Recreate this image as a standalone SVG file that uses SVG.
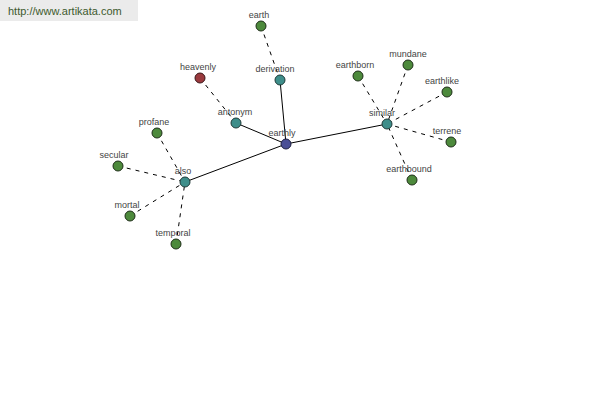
<svg xmlns="http://www.w3.org/2000/svg" width="600" height="400" viewBox="0 0 600 400">
<style>
.bg{fill:#ffffff}
.hdr{fill:#ebebeb}
.hdrt{font-family:"Liberation Sans",Arial,sans-serif;font-size:11px;fill:#3d5a2e}
.lbl{font-family:"Liberation Sans",Arial,sans-serif;font-size:9px;fill:#444444;text-anchor:middle}
.solid{stroke:#000000;stroke-width:1;fill:none}
.dash{stroke:#000000;stroke-width:1;fill:none;stroke-dasharray:4,5}
.leaf{fill:#4d8a3c;stroke:#1e2e18;stroke-width:1}
.hub{fill:#3e8e8a;stroke:#1e3a38;stroke-width:1}
.root{fill:#4a4f96;stroke:#1c1f40;stroke-width:1}
.anti{fill:#9a3a3e;stroke:#3a1618;stroke-width:1}
</style>
<rect class="bg" x="0" y="0" width="600" height="400"/>
<rect class="hdr" x="0" y="0" width="138" height="21"/>
<text class="hdrt" x="8" y="15">http://www.artikata.com</text>
<g id="connectors">
<line class="solid" x1="286" y1="144" x2="280" y2="80"/>
<line class="solid" x1="286" y1="144" x2="236" y2="123"/>
<line class="solid" x1="286" y1="144" x2="387" y2="124"/>
<line class="solid" x1="286" y1="144" x2="185" y2="182"/>
<line class="dash" x1="261" y1="26" x2="280" y2="80"/>
<line class="dash" x1="200" y1="78" x2="236" y2="123"/>
<line class="dash" x1="358" y1="76" x2="387" y2="124"/>
<line class="dash" x1="408" y1="65" x2="387" y2="124"/>
<line class="dash" x1="447" y1="92" x2="387" y2="124"/>
<line class="dash" x1="451" y1="142" x2="387" y2="124"/>
<line class="dash" x1="412" y1="180" x2="387" y2="124"/>
<line class="dash" x1="157" y1="133" x2="185" y2="182"/>
<line class="dash" x1="118" y1="166" x2="185" y2="182"/>
<line class="dash" x1="130" y1="216" x2="185" y2="182"/>
<line class="dash" x1="176" y1="244" x2="185" y2="182"/>
</g>
<g id="node-earthly"><circle class="root" cx="286" cy="144" r="5"/><text class="lbl" x="282" y="136">earthly</text></g>
<g id="node-derivation"><circle class="hub" cx="280" cy="80" r="5"/><text class="lbl" x="275" y="72">derivation</text></g>
<g id="node-earth"><circle class="leaf" cx="261" cy="26" r="5"/><text class="lbl" x="259" y="18">earth</text></g>
<g id="node-antonym"><circle class="hub" cx="236" cy="123" r="5"/><text class="lbl" x="235" y="115">antonym</text></g>
<g id="node-heavenly"><circle class="anti" cx="200" cy="78" r="5"/><text class="lbl" x="198" y="70">heavenly</text></g>
<g id="node-similar"><circle class="hub" cx="387" cy="124" r="5"/><text class="lbl" x="382" y="116">similar</text></g>
<g id="node-earthborn"><circle class="leaf" cx="358" cy="76" r="5"/><text class="lbl" x="355" y="68">earthborn</text></g>
<g id="node-mundane"><circle class="leaf" cx="408" cy="65" r="5"/><text class="lbl" x="408" y="57">mundane</text></g>
<g id="node-earthlike"><circle class="leaf" cx="447" cy="92" r="5"/><text class="lbl" x="442" y="84">earthlike</text></g>
<g id="node-terrene"><circle class="leaf" cx="451" cy="142" r="5"/><text class="lbl" x="447" y="134">terrene</text></g>
<g id="node-earthbound"><circle class="leaf" cx="412" cy="180" r="5"/><text class="lbl" x="409" y="172">earthbound</text></g>
<g id="node-also"><circle class="hub" cx="185" cy="182" r="5"/><text class="lbl" x="183" y="174">also</text></g>
<g id="node-profane"><circle class="leaf" cx="157" cy="133" r="5"/><text class="lbl" x="154" y="125">profane</text></g>
<g id="node-secular"><circle class="leaf" cx="118" cy="166" r="5"/><text class="lbl" x="114" y="158">secular</text></g>
<g id="node-mortal"><circle class="leaf" cx="130" cy="216" r="5"/><text class="lbl" x="127" y="208">mortal</text></g>
<g id="node-temporal"><circle class="leaf" cx="176" cy="244" r="5"/><text class="lbl" x="173" y="236">temporal</text></g>
</svg>
